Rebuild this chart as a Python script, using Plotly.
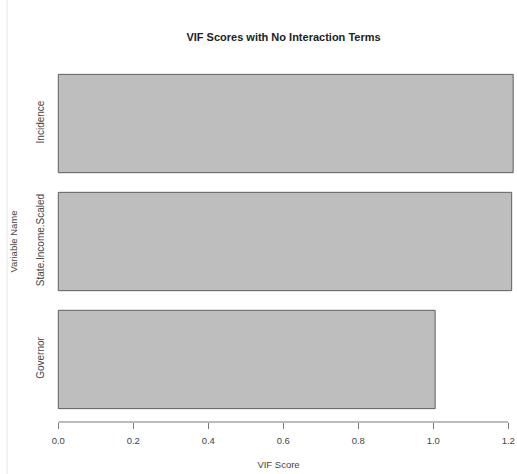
import plotly.graph_objects as go

variables = ["Governor", "State.Income.Scaled", "Incidence"]
vif_scores = [1.005, 1.209, 1.213]
x_tick_values = [0.0, 0.2, 0.4, 0.6, 0.8, 1.0, 1.2]
x_tick_labels = ["0.0", "0.2", "0.4", "0.6", "0.8", "1.0", "1.2"]

FONT = "Liberation Sans, Arial, Helvetica, sans-serif"

W, H = 517, 474
L, R, T, B = 40, 0, 61, 52

fig = go.Figure()
fig.add_trace(go.Bar(
    y=variables,
    x=vif_scores,
    orientation="h",
    width=1 / 1.2,
    marker=dict(color="#bebebe", line=dict(color="#5e5e5e", width=1)),
    hoverinfo="x+y",
))

fig.update_layout(
    width=W,
    height=H,
    margin=dict(l=L, r=R, t=T, b=B, autoexpand=False),
    paper_bgcolor="white",
    plot_bgcolor="white",
    showlegend=False,
    font=dict(family=FONT, size=10, color="#444"),
    title=dict(
        text="<b>VIF Scores with No Interaction Terms</b>",
        font=dict(family=FONT, size=11, color="#222"),
        x=283.5 / W, xref="container", xanchor="center",
        y=1 - 37 / H, yref="container", yanchor="middle",
    ),
    xaxis=dict(
        range=[-0.0488, 1.2232],
        tickvals=x_tick_values,
        ticktext=x_tick_labels,
        ticks="outside",
        ticklen=6,
        tickwidth=1,
        tickcolor="#777",
        showline=False,
        showgrid=False,
        zeroline=False,
        automargin=False,
        ticklabelstandoff=4,
        ticklabeloverflow="allow",
        tickfont=dict(size=9.5, color="#444"),
        title=dict(text="VIF Score", font=dict(size=9.5, color="#444"), standoff=15),
    ),
    yaxis=dict(
        range=[-0.53, 2.53],
        type="category",
        tickangle=-90,
        ticks="",
        showline=False,
        showgrid=False,
        zeroline=False,
        automargin=False,
        tickfont=dict(size=10, color="#444"),
        ticklabelstandoff=-7,
        title=dict(text="Variable Name", font=dict(size=9.5, color="#444"), standoff=15),
    ),
)

# R-style axis line spanning only first to last tick
fig.add_shape(type="line", xref="x", yref="paper",
              x0=x_tick_values[0], x1=x_tick_values[-1], y0=0, y1=0,
              line=dict(color="#777", width=1))
# faint screenshot border on the left
PW, PH = W - L - R, H - T - B
fig.add_shape(type="line", xref="paper", yref="paper",
              x0=(7 - L) / PW, x1=(7 - L) / PW, y0=-B / PH, y1=1 + T / PH,
              line=dict(color="#e6e6e6", width=1))

fig.write_html(
    "out.html",
    config={"displayModeBar": False},
    post_script="document.body.style.margin='0';document.body.style.overflow='hidden';",
)
